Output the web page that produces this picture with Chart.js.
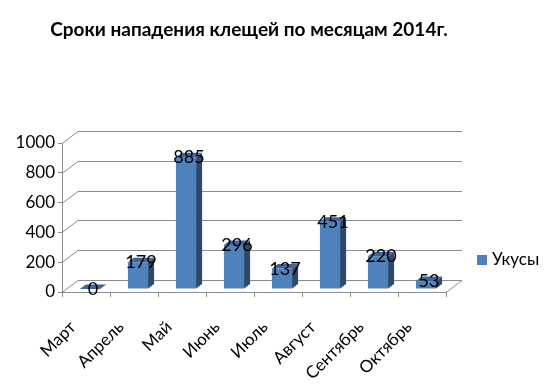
<!DOCTYPE html>
<html>
<head>
<meta charset="utf-8">
<script src="https://cdn.jsdelivr.net/npm/chart.js@4.4.1/dist/chart.umd.min.js"></script>
<style>
  html, body { margin: 0; padding: 0; background: #fff; }
</style>
</head>
<body>
<canvas id="chart" width="550" height="384"></canvas>
<script>
const chartTitle = 'Сроки нападения клещей по месяцам 2014г.';
const months = ['Март', 'Апрель', 'Май', 'Июнь', 'Июль', 'Август', 'Сентябрь', 'Октябрь'];
const bites = [0, 179, 885, 296, 137, 451, 220, 53];
const seriesName = 'Укусы';
const yTicks = [0, 200, 400, 600, 800, 1000];

const FONT = 'Lato, "Liberation Sans", sans-serif';
const GRID = '#8c8c8c';
const FRONT = '#4f81bd';
const SIDE = '#2c4a70';
const TOP = '#3d6597';

// fake 3d: wall depth, bar offset inside the depth, bar thickness
const wall = { dx: 16, dy: -12 };
const shift = { dx: 4, dy: -3 };
const barDepth = { dx: 6, dy: -4.5 };

const fake3d = {
	id: 'fake3d',
	beforeDatasetsDraw(chart) {
		const { ctx, chartArea: a, scales: { y } } = chart;
		ctx.save();
		ctx.strokeStyle = GRID;
		ctx.lineWidth = 1;
		yTicks.forEach(v => {
			const py = Math.round(y.getPixelForValue(v)) + 0.5;
			ctx.beginPath();
			ctx.moveTo(a.left, py);
			ctx.lineTo(a.left + wall.dx, py + wall.dy);
			ctx.lineTo(a.right + wall.dx, py + wall.dy);
			ctx.stroke();
		});
		const p0 = Math.round(y.getPixelForValue(0)) + 0.5;
		ctx.beginPath();
		ctx.moveTo(a.right, p0);
		ctx.lineTo(a.right + wall.dx, p0 + wall.dy);
		ctx.stroke();
		ctx.restore();

		// bars sit a bit behind the front plane
		ctx.save();
		ctx.translate(shift.dx, shift.dy);
	},
	afterDatasetsDraw(chart) {
		const { ctx } = chart;
		const bars = chart.getDatasetMeta(0).data;
		bars.forEach(bar => {
			const l = bar.x - bar.width / 2;
			const r = bar.x + bar.width / 2;
			// side
			ctx.fillStyle = SIDE;
			ctx.beginPath();
			ctx.moveTo(r, bar.y);
			ctx.lineTo(r + barDepth.dx, bar.y + barDepth.dy);
			ctx.lineTo(r + barDepth.dx, bar.base + barDepth.dy);
			ctx.lineTo(r, bar.base);
			ctx.closePath();
			ctx.fill();
			// top
			ctx.fillStyle = TOP;
			ctx.beginPath();
			ctx.moveTo(l, bar.y);
			ctx.lineTo(l + barDepth.dx, bar.y + barDepth.dy);
			ctx.lineTo(r + barDepth.dx, bar.y + barDepth.dy);
			ctx.lineTo(r, bar.y);
			ctx.closePath();
			ctx.fill();
		});
		ctx.restore();

		// value labels
		ctx.save();
		ctx.fillStyle = '#000';
		ctx.font = '18px ' + FONT;
		ctx.textAlign = 'center';
		ctx.textBaseline = 'alphabetic';
		bars.forEach((bar, i) => {
			ctx.fillText(String(bites[i]), bar.x + shift.dx + barDepth.dx / 2, bar.y + shift.dy + 6);
		});
		ctx.restore();
	},
	afterDraw(chart) {
		const { ctx, chartArea: a } = chart;
		ctx.save();
		// title
		ctx.fillStyle = '#000';
		ctx.font = 'bold 19px ' + FONT;
		ctx.textAlign = 'center';
		ctx.textBaseline = 'middle';
		ctx.fillText(chartTitle, 249, 30);
		// legend
		ctx.fillStyle = FRONT;
		ctx.fillRect(a.right + 31, 255, 10, 10);
		ctx.fillStyle = '#000';
		ctx.font = '17px ' + FONT;
		ctx.textAlign = 'left';
		ctx.fillText(seriesName, a.right + 46, 260);
		ctx.restore();
	}
};

const ctx = document.getElementById('chart');

const myChart = new Chart(ctx, {
	type: 'bar',
	data: {
		labels: months,
		datasets: [{
			label: seriesName,
			data: bites,
			backgroundColor: FRONT,
			borderWidth: 0,
			categoryPercentage: 1,
			barPercentage: 0.42,
		}]
	},
	options: {
		responsive: false,
		animation: false,
		layout: {
			padding: { top: 143, right: 104, bottom: 0, left: 0 }
		},
		scales: {
			x: {
				offset: true,
				grid: {
					drawOnChartArea: false,
					tickLength: 5,
					color: GRID,
				},
				border: { color: GRID },
				ticks: {
					autoSkip: false,
					minRotation: 45,
					maxRotation: 45,
					padding: 20,
					labelOffset: -13,
					color: '#000',
					font: { family: FONT, size: 17 },
				},
				afterFit(scale) {
					scale.height = 92;
				}
			},
			y: {
				min: 0,
				max: 1000,
				grid: {
					drawOnChartArea: false,
					tickLength: 4,
					color: GRID,
				},
				border: { color: GRID },
				ticks: {
					stepSize: 200,
					padding: 3,
					color: '#000',
					font: { family: FONT, size: 17 },
					callback: v => String(v),
				},
				afterFit(scale) {
					scale.width = 62;
				}
			}
		},
		plugins: {
			legend: { display: false },
			title: { display: false },
			tooltip: { enabled: false },
		}
	},
	plugins: [fake3d]
});
</script>
</body>
</html>
